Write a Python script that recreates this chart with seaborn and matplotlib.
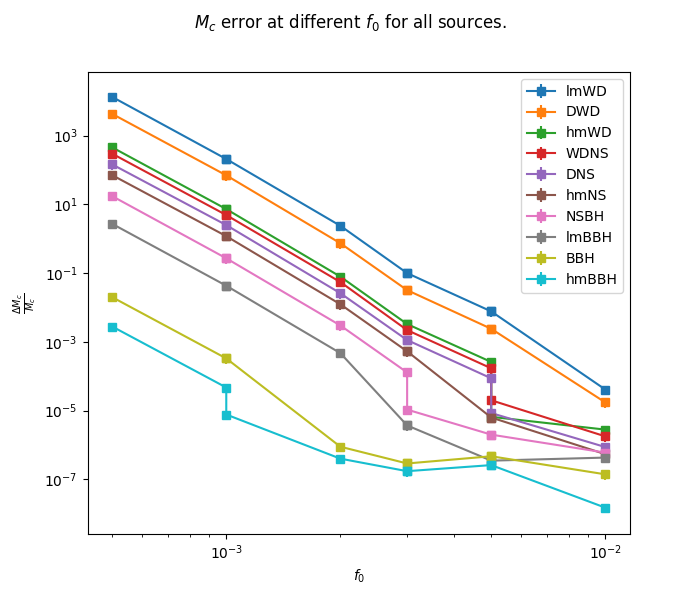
import numpy as np
import seaborn as sns
import matplotlib
matplotlib.use("Agg")
import matplotlib.pyplot as plt

# frequencies (repeated where a series has a jump)
f0 = [5e-4, 1e-3, 1e-3, 2e-3, 3e-3, 3e-3, 5e-3, 5e-3, 1e-2]

sources = ["lmWD", "DWD", "hmWD", "WDNS", "DNS", "hmNS", "NSBH", "lmBBH", "BBH", "hmBBH"]

lmWD = [1.34e4, 209, 209, 2.38, 0.10, 0.10, 7.7e-3, 7.7e-3, 4.1e-5]
DWD = [4.3e3, 70, 70, 0.74, 0.032, 0.032, 2.4e-3, 2.4e-3, 1.73e-5]
hmWD = [457, 7.3, 7.3, 0.079, 3.3e-3, 3.3e-3, 2.6e-4, 6.6e-6, 2.8e-6]
WDNS = [299, 4.9, 4.9, 0.055, 2.2e-3, 2.2e-3, 1.7e-4, 2.0e-5, 1.78e-6]
DNS = [146, 2.5, 2.5, 0.026, 1.13e-3, 1.13e-3, 8.7e-5, 8.5e-6, 8.7e-7]
hmNS = [71, 1.19, 1.19, 0.0124, 5.3e-4, 5.3e-4, 6.3e-6, 6.3e-6, 5.4e-7]
NSBH = [17.4, 0.27, 0.27, 3.0e-3, 1.29e-4, 1.07e-5, 2.0e-6, 2.0e-6, 6.0e-7]
lmBBH = [2.72, 0.043, 0.043, 4.7e-4, 3.7e-6, 3.7e-6, 3.5e-7, 3.5e-7, 4.3e-7]
BBH = [0.02, 3.3e-4, 3.3e-4, 8.9e-7, 2.9e-7, 2.9e-7, 4.7e-7, 4.7e-7, 1.4e-7]
hmBBH = [2.8e-3, 4.7e-5, 7.7e-6, 4.0e-7, 1.73e-7, 1.73e-7, 2.6e-7, 2.6e-7, 1.5e-8]

errors = [lmWD, DWD, hmWD, WDNS, DNS, hmNS, NSBH, lmBBH, BBH, hmBBH]

colors = sns.color_palette("tab10", len(sources))

fig, ax = plt.subplots(figsize=(7, 6), dpi=100)

for name, vals, c in zip(sources, errors, colors):
    vals = np.array(vals)
    ax.errorbar(f0, vals, yerr=0.3 * vals, marker="s", color=c, label=name)

ax.set_xscale("log")
ax.set_yscale("log")
ax.set_xlabel("$f_0$")
ax.set_ylabel(r"$\frac{\Delta M_c}{M_c}$")
ax.legend(loc="upper right")
fig.suptitle("$M_c$ error at different $f_0$ for all sources.")

plt.savefig("out.png")
